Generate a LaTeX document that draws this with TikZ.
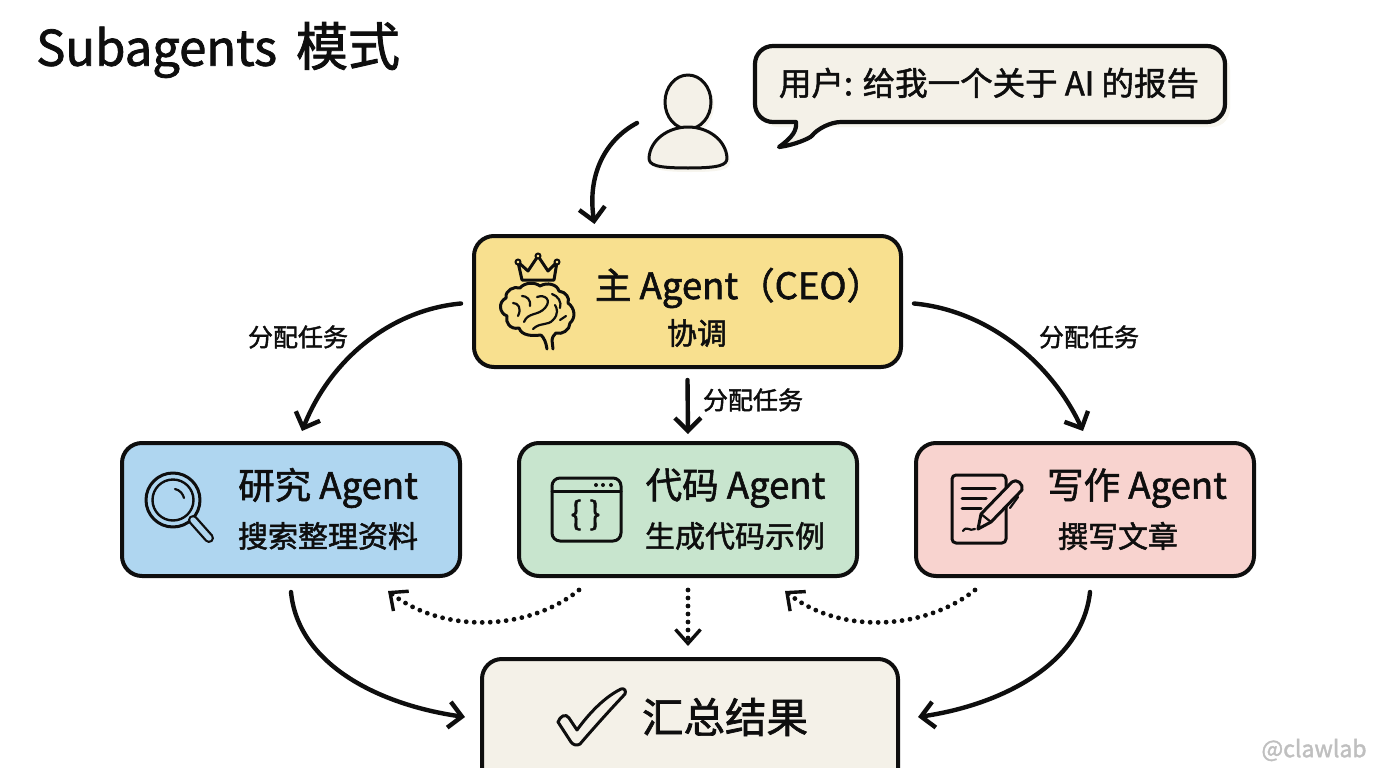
\documentclass[tikz,border=0pt]{standalone}
\usepackage{fontspec}
\setmainfont[FakeBold=1.6]{Noto Sans CJK SC}
\usetikzlibrary{arrows.meta}
\newcommand{\fs}[1]{\fontsize{#1}{#1}\selectfont}
\definecolor{ink}{HTML}{0E0E0E}
\definecolor{mainfill}{HTML}{F8E08F}
\definecolor{resfill}{HTML}{AFD6F0}
\definecolor{codefill}{HTML}{C8E5CE}
\definecolor{writefill}{HTML}{F8D3CF}
\definecolor{sumfill}{HTML}{F4F1E8}
\definecolor{shadefill}{HTML}{F7F5EE}
\tikzset{
  agentbox/.style={draw=ink, line width=4pt, rounded corners=20pt, minimum width=338pt, minimum height=133pt, inner sep=0pt},
  txt/.style={text=ink, inner sep=0pt},
  ico/.style={draw=ink, line width=3pt, line cap=round, line join=round},
  arr/.style={draw=ink, line width=4.4pt, line cap=round, -{Straight Barb[length=13pt,width=26pt,line width=4.4pt]}},
  dotarr/.style={draw=ink, line width=4.8pt, line cap=round, dash pattern=on 0pt off 8pt, -{Straight Barb[length=14pt,width=25pt,line width=3.4pt]}}
}
\begin{document}
\begin{tikzpicture}[x=1pt,y=-1pt]
\useasboundingbox (0,0) rectangle (1376,768);
\clip (0,0) rectangle (1376,768);
\fill [white] (0,0) rectangle (1376,768);

\node [txt, anchor=west, font=\fs{49}] (title) at (36,50) {Subagents\hspace{8pt} {\fs{52}模式}};

% user
\fill [shadefill] (691,105) ellipse (23pt and 27pt);
\fill [shadefill] (652,162) .. controls (653,144) and (671,131) .. (691,131) .. controls (711,131) and (729,144) .. (730,162) .. controls (730,169) and (723,172) .. (691,172) .. controls (659,172) and (652,169) .. (652,162) -- cycle;
\draw [ico, fill=sumfill] (688,102) ellipse (23pt and 27pt);
\draw [ico, fill=sumfill] (649,158) .. controls (650,140) and (668,127) .. (688,127) .. controls (708,127) and (726,140) .. (727,158) .. controls (727,165) and (720,168) .. (688,168) .. controls (656,168) and (649,165) .. (649,158) -- cycle;

% bubble
\fill [shadefill, rounded corners=18pt] (760,52) rectangle (1230,127);
\draw [draw=ink, line width=4.2pt, line join=round, fill=sumfill] (823,122) .. controls (810,138) and (795,145) .. (779,147) .. controls (793,137) and (797,130) .. (796,122) [rounded corners=18pt] -- (755,122) -- (755,46) -- (1225,46) -- (1225,122) -- cycle;
\node [txt, font=\fs{32.5}] (ask) at (989,83) {用户: 给我一个关于 AI 的报告};

% boxes
\node [agentbox, fill=mainfill, minimum width=427pt, minimum height=131pt] (main) at (687.5,301.5) {};
\node [agentbox, fill=resfill] (res) at (291,509.5) {};
\node [agentbox, fill=codefill] (code) at (688,509.5) {};
\node [agentbox, fill=writefill] (write) at (1085,509.5) {};
\node [agentbox, fill=sumfill, minimum width=416pt, minimum height=142pt] (sum) at (690,730) {};

% box texts
\node [txt, font=\fs{36.5}] (maintitle) at (739,288) {主 Agent（CEO）};
\node [txt, font=\fs{30}] (mainsub) at (697,333) {协调};
\node [txt, font=\fs{36.5}] (restitle) at (328,488) {研究 Agent};
\node [txt, font=\fs{30}] (ressub) at (328,536) {搜索整理资料};
\node [txt, font=\fs{36.5}] (codetitle) at (735.5,488) {代码 Agent};
\node [txt, font=\fs{30}] (codesub) at (735,536) {生成代码示例};
\node [txt, font=\fs{36.5}] (writetitle) at (1137,488) {写作 Agent};
\node [txt, font=\fs{30}] (writesub) at (1118,536) {撰写文章};
\node [txt, font=\fs{41.5}] (sumtitle) at (725,717) {汇总结果};

% crown and brain
\draw [ico] (522,280) -- (518,262) -- (528,271) -- (538,256) -- (548,271) -- (557,262) -- (554,280) -- cycle;
\foreach \x/\y in {518/262, 538/256, 557/262} \draw [ico, line width=2pt, fill=mainfill] (\x,\y) circle (2.5pt);
\draw [ico] (541,335) .. controls (532,336) and (522,336) .. (519,328) .. controls (510,330) and (505,322) .. (507,316) .. controls (499,313) and (498,302) .. (506,298) .. controls (505,290) and (514,286) .. (520,288) .. controls (525,282) and (535,282) .. (540,286) .. controls (547,282) and (557,284) .. (559,291) .. controls (566,292) and (570,298) .. (568,303) .. controls (575,308) and (576,318) .. (570,323) .. controls (570,330) and (562,335) .. (556,333) .. controls (553,336) and (552,338) .. (552,340) -- (553,349) (547,349) .. controls (546,342) and (544,338) .. (541,335);
\draw [ico, line width=2.2pt] (524,322) .. controls (528,312) and (538,316) .. (545,308) .. controls (552,300) and (545,294) .. (537,297);
\draw [ico, line width=2.2pt] (513,303) .. controls (518,303) and (522,308) .. (518,316);
\draw [ico, line width=2.2pt] (522,296) .. controls (527,296) and (531,300) .. (530,306);
\draw [ico, line width=2.2pt] (533,329) .. controls (540,322) and (548,326) .. (553,320) .. controls (559,314) and (557,308) .. (555,305);
\draw [ico, line width=2.2pt] (552,294) .. controls (558,296) and (562,302) .. (560,308);
\draw [ico, line width=2.2pt] (560,320) -- (566,316);

% magnifier
\draw [ico, fill=resfill] (173,500) circle (27pt);
\draw [ico, line width=2.4pt] (173,500) circle (20.5pt);
\draw [ico, line width=2.2pt] (175,489) .. controls (180,490) and (183,494) .. (184,498);
\draw [ico, line width=10pt] (193,520) -- (209,538);
\draw [resfill, line width=5.4pt, line cap=round] (193,520) -- (209,538);

% code window
\draw [ico, rounded corners=8pt] (552,478) rectangle (621,541);
\draw [ico] (552,491) -- (621,491);
\foreach \x in {596,603,611} \fill [ink] (\x,485) circle (2pt);
\node [txt, font=\fs{32}] (braces) at (585.5,515) {\{\hspace{8pt}\}};

% document and pen
\draw [ico, rounded corners=4pt] (952,475) rectangle (1006,543);
\draw [ico] (962,488) -- (995,488);
\draw [ico] (962,498) -- (986,498);
\draw [ico] (962,508) -- (981,508);
\draw [ico, line width=2.2pt] (963,531) .. controls (967,525) and (969,532) .. (975,529);
\draw [ico, fill=writefill] (978,529) -- (981,514) -- (1012,482) .. controls (1016,478) and (1024,484) .. (1022,490) -- (991,522) -- cycle;
\draw [ico, line width=2.2pt] (981,514) -- (991,522);
\draw [ico, line width=2.2pt] (1010,508) -- (1018,497);

\node [txt, font=\fs{25}] (lblres) at (298,337) {分配任务};
\node [txt, font=\fs{25}] (lblcode) at (753,400) {分配任务};
\node [txt, font=\fs{25}] (lblwrite) at (1089,337) {分配任务};
\node [txt, font=\fs{23}, text=lightgray] (mark) at (1314,750) {@clawlab};

% arrows
\coordinate (userout) at (637,123);
\draw [arr] (userout) .. controls (605,140) and (587,175) .. ([xshift=-93pt,yshift=10pt]main.north);
\draw [arr] ([xshift=-11pt,yshift=-2pt]main.west) .. controls (390,310) and (330,360) .. ([xshift=11pt,yshift=10pt]res.north);
\draw [arr] ([xshift=11pt,yshift=-2pt]main.east) .. controls (985,310) and (1050,360) .. ([xshift=-2pt,yshift=10pt]write.north);
\draw [arr] ([yshift=-11pt]main.south) -- ([yshift=7pt]code.north);
\draw [arr] ([yshift=-14pt]res.south) .. controls (298,665) and (380,705) .. ([xshift=-15pt,yshift=13pt]sum.west);
\draw [arr] ([xshift=5pt,yshift=-14pt]write.south) .. controls (1082,665) and (1000,705) .. ([xshift=18pt,yshift=13pt]sum.east);
\draw [dotarr] ([xshift=-109pt,yshift=-12pt]code.south) .. controls (530,630) and (445,635) .. ([xshift=97pt,yshift=-13pt]res.south);
\draw [dotarr] ([yshift=-12pt]code.south) -- ([yshift=11pt,xshift=-2pt]sum.north);
\draw [dotarr] ([xshift=-110pt,yshift=-12pt]write.south) .. controls (925,630) and (840,635) .. ([xshift=97pt,yshift=-13pt]code.south);

% check
\draw [ico, fill=sumfill, line width=3pt] (558,722) .. controls (560,716) and (566,713) .. (569,718) -- (577,730) .. controls (590,712) and (605,697) .. (621,689) .. controls (625,688) and (626,691) .. (625,694) .. controls (608,712) and (592,730) .. (580,744) .. controls (577,746) and (573,745) .. (571,742) -- cycle;
\end{tikzpicture}
\end{document}
